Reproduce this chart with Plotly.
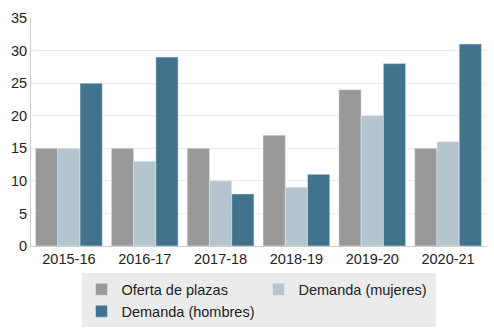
import plotly.graph_objects as go

categories = ["2015-16", "2016-17", "2017-18", "2018-19", "2019-20", "2020-21"]
oferta = [15, 15, 15, 17, 24, 15]
mujeres = [15, 13, 10, 9, 20, 16]
hombres = [25, 29, 8, 11, 28, 31]

fig = go.Figure()
fig.add_bar(x=categories, y=oferta, name="Oferta de plazas", marker_color="#999999")
fig.add_bar(x=categories, y=mujeres, name="Demanda (mujeres)", marker_color="#b5c5d0")
fig.add_bar(x=categories, y=hombres, name="Demanda (hombres)", marker_color="#41738c")

fig.update_layout(
    width=494, height=335,
    margin=dict(l=31, r=8, t=18, b=89),
    barmode="group", bargap=0.12, bargroupgap=0,
    plot_bgcolor="white", paper_bgcolor="white",
    font=dict(family="Liberation Sans, Arial, sans-serif", size=14, color="#222"),
    showlegend=True,
    legend=dict(orientation="h", x=0.5, xanchor="center", y=-0.12, yanchor="top",
                bgcolor="#ebebeb", entrywidth=132, entrywidthmode="pixels",
                itemwidth=30, font=dict(size=14.5), tracegroupgap=0),
    xaxis=dict(showline=True, linecolor="#cccccc", ticks="", showgrid=False,
               tickfont=dict(size=14.5)),
    yaxis=dict(range=[0, 35], dtick=5, showline=True, linecolor="#cccccc",
               gridcolor="#ebebeb", zeroline=False, ticks="", tickfont=dict(size=14.5)),
)
fig.write_html("out.html")
